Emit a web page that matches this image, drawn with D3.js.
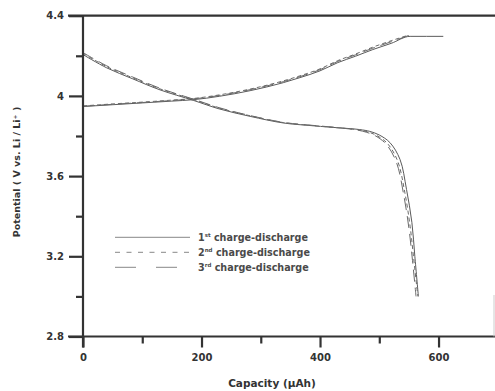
<!DOCTYPE html>
<html><head><meta charset="utf-8">
<script src="https://cdn.jsdelivr.net/npm/d3@7"></script>
<style>body{margin:0;background:#fff}svg{display:block}</style>
</head><body>
<script>
// ---- data ----
const charge1Cap = [0, 50, 100, 150, 186, 230, 282, 338, 366, 400, 430, 460, 489, 520, 552, 580, 608];
const charge1V   = [3.947, 3.956, 3.965, 3.974, 3.981, 3.998, 4.026, 4.066, 4.091, 4.125, 4.166, 4.198, 4.231, 4.262, 4.297, 4.297, 4.297];
const charge2Cap = [0, 50, 100, 150, 186, 230, 282, 338, 366, 400, 430, 460, 489, 520, 548];
const charge2V   = [3.950, 3.960, 3.969, 3.979, 3.987, 4.005, 4.034, 4.075, 4.100, 4.135, 4.176, 4.209, 4.243, 4.275, 4.302];
const charge3Cap = [0, 50, 100, 150, 186, 230, 282, 338, 366, 400, 430, 460, 489, 520, 552];
const charge3V   = [3.948, 3.958, 3.967, 3.977, 3.985, 4.002, 4.031, 4.071, 4.096, 4.131, 4.172, 4.205, 4.238, 4.270, 4.304];

const dis1Cap = [0, 40, 84, 130, 186, 230, 282, 338, 380, 422, 467, 484, 500, 518, 535, 546, 555, 560, 566];
const dis1V   = [4.206, 4.140, 4.085, 4.030, 3.978, 3.935, 3.898, 3.865, 3.853, 3.843, 3.832, 3.823, 3.805, 3.767, 3.683, 3.533, 3.369, 3.200, 3.000];
const dis2Cap = [0, 40, 84, 130, 186, 230, 282, 338, 380, 422, 464, 480, 496, 514, 531, 543, 552, 558, 565];
const dis2V   = [4.212, 4.146, 4.090, 4.035, 3.982, 3.939, 3.901, 3.867, 3.854, 3.843, 3.831, 3.821, 3.802, 3.762, 3.675, 3.520, 3.350, 3.190, 3.000];
const dis3Cap = [0, 40, 84, 130, 186, 230, 282, 338, 380, 422, 462, 478, 494, 512, 529, 541, 550, 556, 562];
const dis3V   = [4.216, 4.150, 4.094, 4.038, 3.984, 3.941, 3.902, 3.868, 3.855, 3.844, 3.830, 3.819, 3.800, 3.758, 3.668, 3.510, 3.340, 3.180, 3.000];

const xTicks = [0, 200, 400, 600];
const xMinor = [100, 300, 500];
const yTicks = [2.8, 3.2, 3.6, 4.0, 4.4];
const yTickLabels = ["2.8", "3.2", "3.6", "4", "4.4"];
const yMinor = [3.0, 3.4, 3.8, 4.2];
const legendLabels = [["1", "st", " charge-discharge"], ["2", "nd", " charge-discharge"], ["3", "rd", " charge-discharge"]];
const xTitle = "Capacity (µAh)";
const yTitle = "Potential ( V vs. Li / Li⁺ )";

// ---- drawing ----
const W = 495, H = 391;
const x = d3.scaleLinear().domain([0, 700]).range([83, 497.8]);
const y = d3.scaleLinear().domain([2.8, 4.4]).range([336.5, 15.7]);
const svg = d3.select("body").append("svg").attr("width", W).attr("height", H);
const ink = "#333";
const font = "'DejaVu Sans', sans-serif";

const styles = [
  {color: "#5a5a5a", dash: null, w: 1},
  {color: "#6a6a6a", dash: "4,3", w: 1},
  {color: "#6a6a6a", dash: "12,6", w: 1}
];
const series = [
  [charge1Cap, charge1V, 0], [charge2Cap, charge2V, 1], [charge3Cap, charge3V, 2],
  [dis1Cap, dis1V, 0], [dis2Cap, dis2V, 1], [dis3Cap, dis3V, 2]
];
const line = d3.line().x(d => x(d[0])).y(d => y(d[1])).curve(d3.curveMonotoneX);
const lineD = d3.line().x(d => x(d[0])).y(d => y(d[1])).curve(d3.curveCatmullRom.alpha(0.5));
series.forEach(([c, v, s], i) => {
  const pts = c.map((cv, k) => [cv, v[k]]);
  svg.append("path").attr("d", (i < 3 ? line : lineD)(pts))
    .attr("fill", "none").attr("stroke", styles[s].color)
    .attr("stroke-width", styles[s].w)
    .attr("stroke-dasharray", styles[s].dash);
});

// axes
const ax = svg.append("g").attr("stroke", ink).attr("stroke-width", 2.2);
ax.append("line").attr("x1", 68).attr("x2", W).attr("y1", y(4.4)).attr("y2", y(4.4));
ax.append("line").attr("x1", 68).attr("x2", W).attr("y1", y(2.8)).attr("y2", y(2.8));
ax.append("line").attr("x1", x(0)).attr("x2", x(0)).attr("y1", y(4.4)).attr("y2", y(2.8) + 11);
svg.append("line").attr("x1", 494).attr("x2", 494).attr("y1", 295).attr("y2", y(2.8))
  .attr("stroke", "#ccc").attr("stroke-width", 1);

const xAxis = d3.axisBottom(x).tickValues(xTicks).tickSize(11).tickPadding(6).tickFormat(d3.format("d"));
const gx = svg.append("g").attr("transform", `translate(0,${y(2.8)})`).call(xAxis);
gx.select(".domain").remove();
const xAxisMinor = d3.axisBottom(x).tickValues(xMinor).tickSize(7).tickFormat("");
const gxm = svg.append("g").attr("transform", `translate(0,${y(2.8)})`).call(xAxisMinor);
gxm.select(".domain").remove();

const yAxis = d3.axisLeft(y).tickValues(yTicks).tickSize(14).tickPadding(5).tickFormat((d, i) => yTickLabels[i]);
const gy = svg.append("g").attr("transform", `translate(${x(0)},0)`).call(yAxis);
gy.select(".domain").remove();
const yAxisMinor = d3.axisLeft(y).tickValues(yMinor).tickSize(7).tickFormat("");
const gym = svg.append("g").attr("transform", `translate(${x(0)},0)`).call(yAxisMinor);
gym.select(".domain").remove();

[gx, gxm, gy, gym].forEach(g => {
  g.selectAll("line").attr("stroke", ink).attr("stroke-width", 2.2);
  g.selectAll("text").attr("fill", ink).attr("font-family", font)
    .attr("font-weight", "bold").attr("font-size", 10);
});

// titles
svg.append("text").attr("x", 272).attr("y", 387).attr("text-anchor", "middle")
  .attr("font-family", font).attr("font-weight", "bold").attr("font-size", 10.5)
  .attr("fill", ink).text(xTitle);
svg.append("text").attr("transform", "translate(20,172) rotate(-90)").attr("text-anchor", "middle")
  .attr("font-family", font).attr("font-weight", "bold").attr("font-size", 9.5)
  .attr("fill", ink).text(yTitle);

// legend
const legY = [237.3, 252.3, 267.3];
const legDash = [null, "5,6.5", "21,20"];
legendLabels.forEach((lab, i) => {
  svg.append("line").attr("x1", 115).attr("x2", 190).attr("y1", legY[i]).attr("y2", legY[i])
    .attr("stroke", "#888").attr("stroke-width", 1).attr("stroke-dasharray", legDash[i]);
  const t = svg.append("text").attr("x", 198).attr("y", legY[i] + 3.5)
    .attr("font-family", font).attr("font-size", 9.6).attr("fill", "#4a4a4a").attr("font-weight", "bold");
  t.append("tspan").text(lab[0]);
  t.append("tspan").attr("font-size", 5.5).attr("dy", -3.5).text(lab[1]);
  t.append("tspan").attr("dy", 3.5).text(lab[2]);
});
</script>
</body></html>
